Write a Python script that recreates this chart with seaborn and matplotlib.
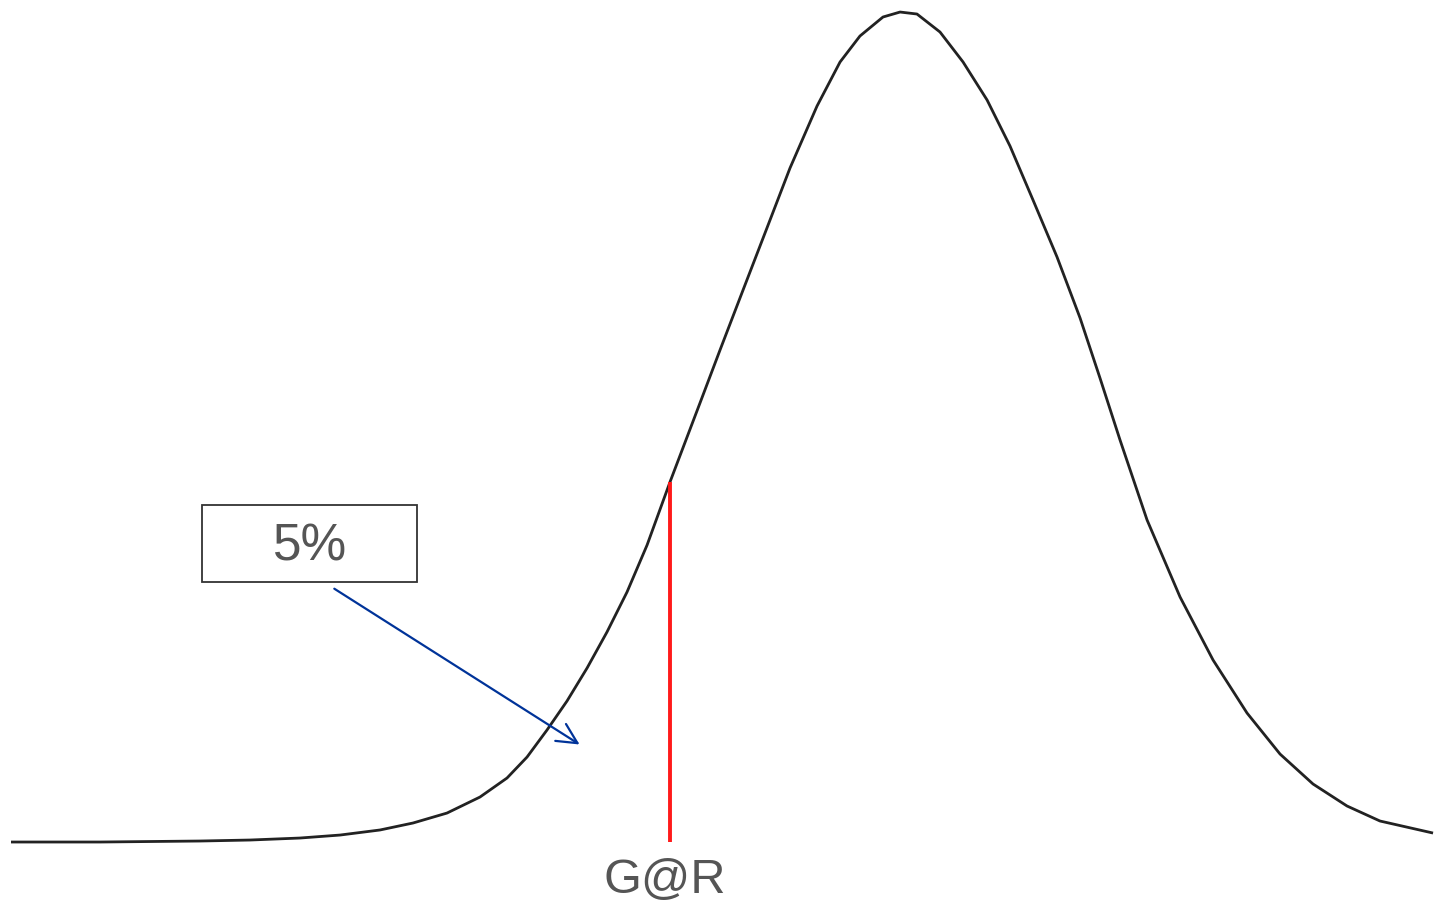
import numpy as np
import pandas as pd
import matplotlib
matplotlib.use("Agg")
import matplotlib.pyplot as plt
from matplotlib.patches import Rectangle
import seaborn as sns

sns.set_theme(style="white")
plt.rcParams['font.family'] = ['Liberation Sans', 'DejaVu Sans']

# growth outcome (arbitrary 0-100 scale) and density (% of peak)
growth = [0.00, 6.26, 13.29, 16.81, 20.32, 23.14, 25.95, 28.27, 30.66, 32.98,
          34.88, 36.29, 37.69, 39.10, 40.51, 41.91, 43.32, 44.73, 46.34, 48.45,
          49.86, 51.48, 53.16, 54.78, 56.68, 58.30, 59.70, 61.32, 62.52, 63.71,
          65.33, 66.95, 68.64, 70.25, 71.87, 73.56, 75.18, 76.58, 77.99, 79.89,
          82.21, 84.53, 86.92, 89.24, 91.56, 93.95, 96.27, 100.00]
density = [0.00, 0.00, 0.12, 0.24, 0.48, 0.84, 1.45, 2.29, 3.49, 5.42,
           7.71, 10.24, 13.49, 16.99, 20.96, 25.30, 30.12, 35.78, 43.37, 52.89,
           59.28, 66.51, 73.98, 81.20, 88.67, 93.98, 97.11, 99.40, 100.00, 99.76,
           97.59, 93.98, 89.40, 83.86, 77.35, 70.48, 63.13, 55.90, 48.43, 38.80,
           29.52, 21.93, 15.54, 10.60, 6.99, 4.34, 2.53, 1.08]

gar_x = 46.34     # growth-at-risk quantile
gar_y = 43.37
tail_label = "5%"
gar_label = "G@R"

df = pd.DataFrame({"growth": growth, "density": density})

fig, ax = plt.subplots(figsize=(14.41, 9.08), dpi=100)
fig.subplots_adjust(left=0, right=1, bottom=0, top=1)

sns.lineplot(data=df, x="growth", y="density", ax=ax, color="#222222",
             linewidth=2.0, sort=False)
for l in ax.lines:
    l.set_solid_joinstyle("round")
    l.set_solid_capstyle("butt")

# red line at the 5% quantile
ax.vlines(gar_x, 0, gar_y, color="#ff1a1a", linewidth=2.8)

# label box with the tail probability
ax.add_patch(Rectangle((13.43, 31.3), 15.12, 9.3, fill=False,
                       edgecolor="#333333", linewidth=1.3))
ax.text(21.0, 35.5, tail_label, ha="center", va="center", fontsize=37,
        color="#555555")

ax.annotate("", xy=(40.15, 11.57), xytext=(22.57, 30.7),
            arrowprops=dict(arrowstyle="->,head_length=0.9,head_width=0.45",
                            mutation_scale=16, color="#003399", linewidth=1.6))

ax.text(gar_x - 0.4, -4.6, gar_label, ha="center", va="center", fontsize=35,
        color="#555555")

ax.set_xlim(-0.774, 100.56)
ax.set_ylim(-7.95, 101.45)
ax.axis("off")

plt.savefig("out.png", dpi=100)
